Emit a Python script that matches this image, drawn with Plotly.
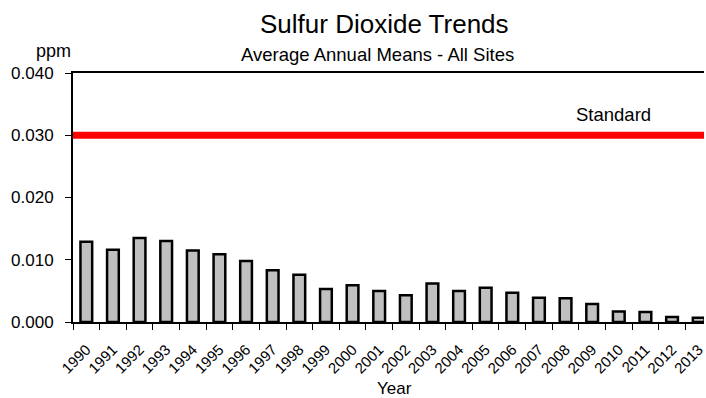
import plotly.graph_objects as go

# Annual mean SO2 concentrations, all sites (ppm)
years = [str(y) for y in range(1990, 2014)]
so2_ppm = [0.0129, 0.0116, 0.0135, 0.0130, 0.0115, 0.0109, 0.0098, 0.0083,
           0.0076, 0.0053, 0.0059, 0.0050, 0.0043, 0.0062, 0.0050, 0.0055,
           0.0047, 0.0039, 0.0038, 0.0029, 0.0017, 0.0016, 0.0008, 0.0007]
standard_ppm = 0.030
y_ticks = [0.0, 0.010, 0.020, 0.030, 0.040]

FONT = "Liberation Sans, Arial, sans-serif"


def label(text, size, **kw):
    fig.add_annotation(text=text, showarrow=False, xanchor="center",
                       yanchor="middle", borderpad=0,
                       font=dict(size=size, color="black", family=FONT), **kw)


fig = go.Figure()
fig.add_trace(go.Bar(
    x=years, y=so2_ppm, width=0.44,
    marker=dict(color="#c0c0c0", line=dict(color="black", width=2.5)),
    showlegend=False,
))

# Annual standard as a thick red line across the plot
fig.add_shape(type="line", xref="paper", x0=0, x1=1, yref="y",
              y0=standard_ppm, y1=standard_ppm,
              line=dict(color="#ff0000", width=7), layer="above")
label("Standard", 18.5, xref="paper", x=0.856, yref="y", y=standard_ppm,
      yshift=21)

label("Sulfur Dioxide Trends", 26, xref="paper", x=0.5, xshift=-4.5,
      yref="paper", y=1, yshift=49)
label("Average Annual Means - All Sites", 18.5, xref="paper", x=0.5,
      xshift=-11, yref="paper", y=1, yshift=19)
label("ppm", 18, xref="paper", x=0, xshift=-19.5, yref="paper", y=1,
      yshift=22)
label("Year", 17, xref="paper", x=0.5, xshift=6, yref="paper", y=0,
      yshift=-66)

fig.update_layout(
    width=706, height=398,
    margin=dict(l=73, r=0, t=73, b=76),
    paper_bgcolor="white", plot_bgcolor="white",
    font=dict(family=FONT, color="black", size=15),
    bargap=0.56,
    xaxis=dict(
        type="category", range=[-0.5, 23.2],
        tickangle=-45, tickson="boundaries",
        ticks="outside", ticklen=6, tickwidth=1, tickcolor="black",
        showline=True, linecolor="black", linewidth=2, mirror=True,
        showgrid=False, tickfont=dict(size=15), ticklabelstandoff=11,
    ),
    yaxis=dict(
        range=[0, 0.040], tickvals=y_ticks, tickformat=".3f",
        ticks="outside", ticklen=6, tickwidth=1, tickcolor="black",
        showline=True, linecolor="black", linewidth=2, mirror=False,
        showgrid=False, zeroline=False, tickfont=dict(size=17),
        ticklabelstandoff=8,
    ),
)

fig.write_html("out.html")
